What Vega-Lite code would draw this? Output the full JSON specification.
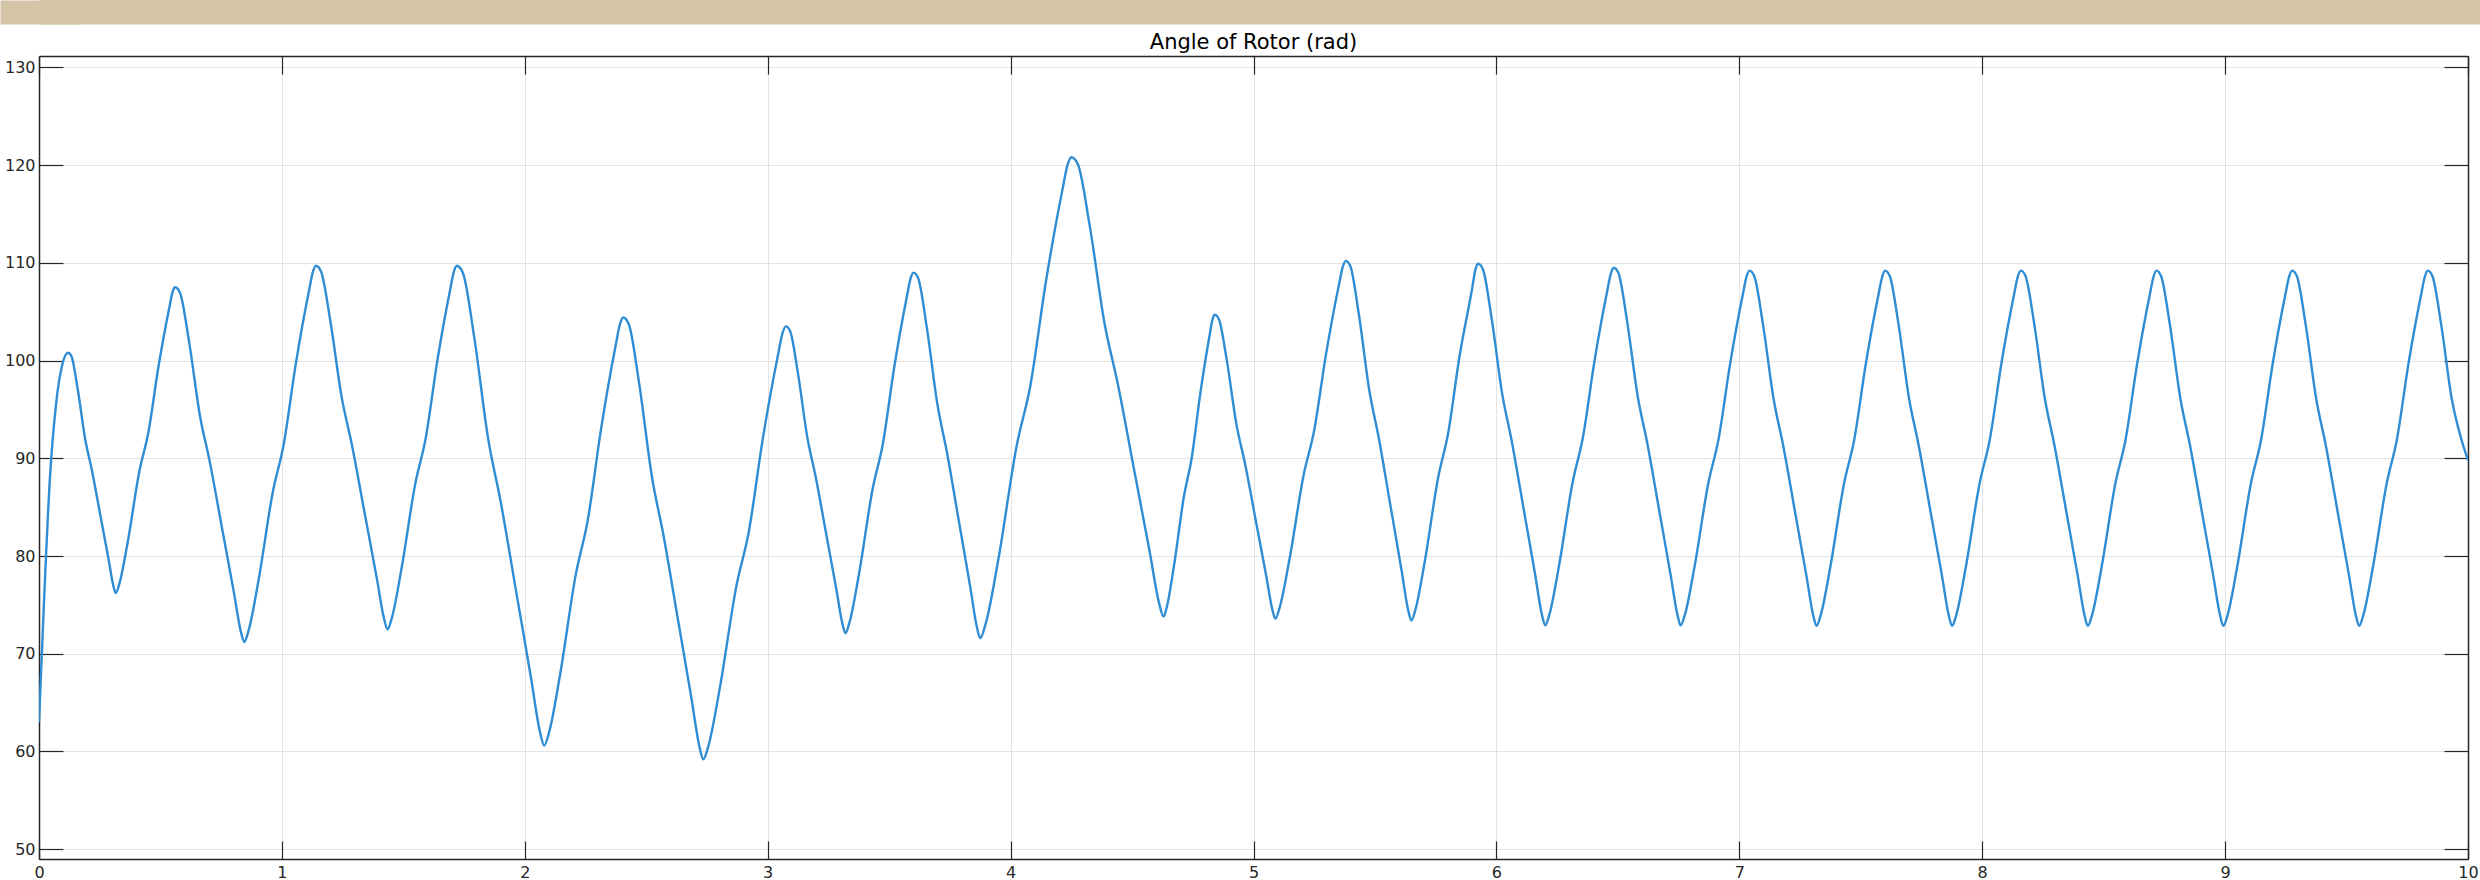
{
  "$schema": "https://vega.github.io/schema/vega-lite/v6.json",
  "padding": 0,
  "background": "white",
  "config": {
    "view": {"stroke": null},
    "font": "DejaVu Sans",
    "axis": {"labelFont": "DejaVu Sans", "labelFontSize": 16, "labelColor": "#262626", "domainColor": "#262626", "tickColor": "#262626", "gridColor": "#e3e3e3", "gridWidth": 1, "title": null}
  },
  "datasets": {
    "rotor": [
      {"t":0,"angle":63.0},{"t":0.02,"angle":75.0},{"t":0.045,"angle":88.0},{"t":0.07,"angle":95.5},{"t":0.095,"angle":99.5},{"t":0.12,"angle":100.8},
      {"t":0.1337,"angle":100.43},{"t":0.1592,"angle":97.11},{"t":0.1906,"angle":91.89},{"t":0.218,"angle":88.75},{"t":0.2533,"angle":84.07},{"t":0.2866,"angle":79.64},{"t":0.3062,"angle":76.94},
      {"t":0.316,"angle":76.2},
      {"t":0.3306,"angle":77.14},{"t":0.3648,"angle":81.36},{"t":0.4136,"angle":88.72},{"t":0.4502,"angle":92.63},{"t":0.4917,"angle":99.36},{"t":0.5356,"angle":105.31},{"t":0.5502,"angle":107.03},
      {"t":0.56,"angle":107.5},
      {"t":0.58,"angle":106.96},{"t":0.617,"angle":102.06},{"t":0.6626,"angle":94.36},{"t":0.7025,"angle":89.71},{"t":0.7538,"angle":82.82},{"t":0.8023,"angle":76.28},{"t":0.8308,"angle":72.29},
      {"t":0.845,"angle":71.2},
      {"t":0.8627,"angle":72.36},{"t":0.904,"angle":77.55},{"t":0.963,"angle":86.6},{"t":1.0073,"angle":91.41},{"t":1.0574,"angle":99.69},{"t":1.1105,"angle":107.01},{"t":1.1282,"angle":109.12},
      {"t":1.14,"angle":109.7},
      {"t":1.1607,"angle":109.14},{"t":1.199,"angle":104.12},{"t":1.2462,"angle":96.23},{"t":1.2875,"angle":91.47},{"t":1.3406,"angle":84.4},{"t":1.3908,"angle":77.71},{"t":1.4203,"angle":73.62},
      {"t":1.435,"angle":72.5},
      {"t":1.4521,"angle":73.62},{"t":1.492,"angle":78.64},{"t":1.549,"angle":87.38},{"t":1.5918,"angle":92.03},{"t":1.6402,"angle":100.03},{"t":1.6915,"angle":107.1},{"t":1.7086,"angle":109.14},
      {"t":1.72,"angle":109.7},
      {"t":1.7452,"angle":108.96},{"t":1.792,"angle":102.34},{"t":1.8496,"angle":91.93},{"t":1.9,"angle":85.64},{"t":1.9648,"angle":76.31},{"t":2.026,"angle":67.47},{"t":2.062,"angle":62.07},
      {"t":2.08,"angle":60.6},
      {"t":2.0995,"angle":61.91},{"t":2.145,"angle":67.83},{"t":2.21,"angle":78.12},{"t":2.2588,"angle":83.6},{"t":2.314,"angle":93.01},{"t":2.3725,"angle":101.33},{"t":2.392,"angle":103.74},
      {"t":2.405,"angle":104.4},
      {"t":2.4281,"angle":103.72},{"t":2.471,"angle":97.62},{"t":2.5238,"angle":88.04},{"t":2.57,"angle":82.25},{"t":2.6294,"angle":73.66},{"t":2.6855,"angle":65.53},{"t":2.7185,"angle":60.56},
      {"t":2.735,"angle":59.2},
      {"t":2.7554,"angle":60.53},{"t":2.803,"angle":66.51},{"t":2.871,"angle":76.92},{"t":2.922,"angle":82.46},{"t":2.9798,"angle":91.98},{"t":3.041,"angle":100.4},{"t":3.0614,"angle":102.84},
      {"t":3.075,"angle":103.5},
      {"t":3.0922,"angle":103.03},{"t":3.124,"angle":98.79},{"t":3.1632,"angle":92.13},{"t":3.1975,"angle":88.11},{"t":3.2416,"angle":82.15},{"t":3.2833,"angle":76.5},{"t":3.3078,"angle":73.04},
      {"t":3.32,"angle":72.1},
      {"t":3.3368,"angle":73.21},{"t":3.376,"angle":78.19},{"t":3.432,"angle":86.86},{"t":3.474,"angle":91.47},{"t":3.5216,"angle":99.41},{"t":3.572,"angle":106.42},{"t":3.5888,"angle":108.45},
      {"t":3.6,"angle":109.0},
      {"t":3.6193,"angle":108.44},{"t":3.655,"angle":103.39},{"t":3.699,"angle":95.46},{"t":3.7375,"angle":90.67},{"t":3.787,"angle":83.57},{"t":3.8338,"angle":76.84},{"t":3.8613,"angle":72.72},
      {"t":3.875,"angle":71.6},
      {"t":3.8975,"angle":73.08},{"t":3.95,"angle":79.72},{"t":4.025,"angle":91.28},{"t":4.0813,"angle":97.43},{"t":4.145,"angle":108.01},{"t":4.2125,"angle":117.36},{"t":4.235,"angle":120.06},
      {"t":4.25,"angle":120.8},
      {"t":4.2766,"angle":120.1},{"t":4.326,"angle":113.75},{"t":4.3868,"angle":103.79},{"t":4.44,"angle":97.77},{"t":4.5084,"angle":88.84},{"t":4.573,"angle":80.38},{"t":4.611,"angle":75.21},
      {"t":4.63,"angle":73.8},
      {"t":4.6426,"angle":74.73},{"t":4.672,"angle":78.9},{"t":4.714,"angle":86.16},{"t":4.7455,"angle":90.02},{"t":4.7812,"angle":96.67},{"t":4.819,"angle":102.54},{"t":4.8316,"angle":104.24},
      {"t":4.84,"angle":104.7},
      {"t":4.8575,"angle":104.23},{"t":4.89,"angle":100.04},{"t":4.93,"angle":93.44},{"t":4.965,"angle":89.46},{"t":5.01,"angle":83.55},{"t":5.0525,"angle":77.95},{"t":5.0775,"angle":74.53},
      {"t":5.09,"angle":73.6},
      {"t":5.1074,"angle":74.7},{"t":5.148,"angle":79.64},{"t":5.206,"angle":88.24},{"t":5.2495,"angle":92.82},{"t":5.2988,"angle":100.68},{"t":5.351,"angle":107.64},{"t":5.3684,"angle":109.65},
      {"t":5.38,"angle":110.2},
      {"t":5.3989,"angle":109.65},{"t":5.434,"angle":104.68},{"t":5.4772,"angle":96.88},{"t":5.515,"angle":92.17},{"t":5.5636,"angle":85.18},{"t":5.6095,"angle":78.55},{"t":5.6365,"angle":74.5},
      {"t":5.65,"angle":73.4},
      {"t":5.6665,"angle":74.5},{"t":5.705,"angle":79.42},{"t":5.76,"angle":88.0},{"t":5.8013,"angle":92.56},{"t":5.848,"angle":100.41},{"t":5.9,"angle":107.35},{"t":5.914,"angle":109.35},
      {"t":5.925,"angle":109.9},
      {"t":5.9443,"angle":109.35},{"t":5.9802,"angle":104.35},{"t":6.0244,"angle":96.51},{"t":6.063,"angle":91.77},{"t":6.1127,"angle":84.74},{"t":6.1596,"angle":78.08},{"t":6.1872,"angle":74.01},
      {"t":6.201,"angle":72.9},
      {"t":6.2179,"angle":74.0},{"t":6.2574,"angle":78.94},{"t":6.3138,"angle":87.54},{"t":6.3561,"angle":92.12},{"t":6.404,"angle":99.98},{"t":6.4548,"angle":106.94},{"t":6.4717,"angle":108.95},
      {"t":6.483,"angle":109.5},
      {"t":6.5023,"angle":108.95},{"t":6.5382,"angle":104.01},{"t":6.5824,"angle":96.25},{"t":6.621,"angle":91.57},{"t":6.6707,"angle":84.61},{"t":6.7176,"angle":78.02},{"t":6.7452,"angle":74.0},
      {"t":6.759,"angle":72.9},
      {"t":6.776,"angle":73.99},{"t":6.8156,"angle":78.89},{"t":6.8722,"angle":87.42},{"t":6.9147,"angle":91.96},{"t":6.9628,"angle":99.76},{"t":7.0137,"angle":106.66},{"t":7.0307,"angle":108.66},
      {"t":7.042,"angle":109.2},
      {"t":7.0613,"angle":108.65},{"t":7.0972,"angle":103.75},{"t":7.1414,"angle":96.04},{"t":7.18,"angle":91.39},{"t":7.2297,"angle":84.48},{"t":7.2766,"angle":77.94},{"t":7.3042,"angle":73.94},
      {"t":7.318,"angle":72.85},
      {"t":7.335,"angle":73.94},{"t":7.3745,"angle":78.85},{"t":7.431,"angle":87.39},{"t":7.4734,"angle":91.93},{"t":7.5214,"angle":99.75},{"t":7.5723,"angle":106.66},{"t":7.5892,"angle":108.65},
      {"t":7.6,"angle":109.2},
      {"t":7.6193,"angle":108.65},{"t":7.6552,"angle":103.75},{"t":7.6994,"angle":96.04},{"t":7.738,"angle":91.39},{"t":7.7877,"angle":84.48},{"t":7.8346,"angle":77.94},{"t":7.8622,"angle":73.94},
      {"t":7.876,"angle":72.85},
      {"t":7.893,"angle":73.94},{"t":7.9325,"angle":78.85},{"t":7.989,"angle":87.39},{"t":8.0314,"angle":91.93},{"t":8.0794,"angle":99.75},{"t":8.1303,"angle":106.66},{"t":8.1472,"angle":108.65},
      {"t":8.159,"angle":109.2},
      {"t":8.1783,"angle":108.65},{"t":8.2142,"angle":103.75},{"t":8.2584,"angle":96.04},{"t":8.297,"angle":91.39},{"t":8.3467,"angle":84.48},{"t":8.3936,"angle":77.94},{"t":8.4212,"angle":73.94},
      {"t":8.435,"angle":72.85},
      {"t":8.452,"angle":73.94},{"t":8.4915,"angle":78.85},{"t":8.548,"angle":87.39},{"t":8.5904,"angle":91.93},{"t":8.6384,"angle":99.75},{"t":8.6893,"angle":106.66},{"t":8.7062,"angle":108.65},
      {"t":8.717,"angle":109.2},
      {"t":8.7363,"angle":108.65},{"t":8.7722,"angle":103.75},{"t":8.8164,"angle":96.04},{"t":8.855,"angle":91.39},{"t":8.9047,"angle":84.48},{"t":8.9516,"angle":77.94},{"t":8.9792,"angle":73.94},
      {"t":8.993,"angle":72.85},
      {"t":9.01,"angle":73.94},{"t":9.0495,"angle":78.85},{"t":9.106,"angle":87.39},{"t":9.1484,"angle":91.93},{"t":9.1964,"angle":99.75},{"t":9.2473,"angle":106.66},{"t":9.2642,"angle":108.65},
      {"t":9.276,"angle":109.2},
      {"t":9.2953,"angle":108.65},{"t":9.3312,"angle":103.75},{"t":9.3754,"angle":96.04},{"t":9.414,"angle":91.39},{"t":9.4637,"angle":84.48},{"t":9.5106,"angle":77.94},{"t":9.5382,"angle":73.94},
      {"t":9.552,"angle":72.85},
      {"t":9.569,"angle":73.94},{"t":9.6085,"angle":78.85},{"t":9.665,"angle":87.39},{"t":9.7074,"angle":91.93},{"t":9.7554,"angle":99.75},{"t":9.8063,"angle":106.66},{"t":9.8232,"angle":108.65},
      {"t":9.834,"angle":109.2},
      {"t":9.8533,"angle":108.65},{"t":9.8892,"angle":103.75},{"t":9.9334,"angle":96.04},{"t":9.972,"angle":92.0},{"t":10.0,"angle":89.8}
    ]
  },
  "columns": 1,
  "spacing": 8,
  "concat": [
    {
      "width": 2441,
      "height": 24,
      "data": {"values": [{"part": "header"}]},
      "mark": {"type": "rect", "color": "#d3c5a6", "opacity": 0},
      "encoding": {
        "x": {"field": "part", "type": "nominal", "scale": {"paddingInner": 0, "paddingOuter": 0},
              "axis": {"orient": "top", "labels": false, "ticks": false, "grid": false,
                       "domain": true, "domainColor": "#d3c5a6", "domainOpacity": 1, "domainWidth": 48,
                       "minExtent": 0, "maxExtent": 0, "title": null}},
        "y": {"field": "part", "type": "nominal", "scale": {"paddingInner": 0, "paddingOuter": 0},
              "axis": {"orient": "left", "labels": false, "ticks": false, "grid": false,
                       "domain": true, "domainColor": "#d3c5a6", "domainOpacity": 1, "domainWidth": 78,
                       "minExtent": 39, "maxExtent": 39, "title": null}}
      }
    },
    {
      "width": 2429,
      "height": 803,
      "title": {"text": "Angle of Rotor (rad)", "font": "DejaVu Sans", "fontSize": 21, "fontWeight": "normal", "color": "#000000", "anchor": "middle", "offset": -15, "baseline": "alphabetic"},
      "data": {"name": "rotor"},
      "layer": [
        {
          "mark": {"type": "line", "color": "#2f8dd3", "strokeWidth": 2.4, "interpolate": "monotone", "clip": true},
          "encoding": {
            "x": {"field": "t", "type": "quantitative", "scale": {"domain": [0, 10], "nice": false, "zero": false},
                  "axis": {"orient": "bottom", "values": [0,1,2,3,4,5,6,7,8,9,10], "grid": true, "ticks": false, "domain": true, "domainWidth": 1.5, "labelPadding": 5, "labelFlush": false, "format": "d"}},
            "y": {"field": "angle", "type": "quantitative", "scale": {"domain": [49, 131.16], "nice": false, "zero": false},
                  "axis": {"orient": "left", "values": [50,60,70,80,90,100,110,120,130], "grid": true, "ticks": false, "domain": true, "domainWidth": 1.5, "labelPadding": 4, "minExtent": 39, "maxExtent": 39, "format": "d"}}
          }
        },
        {
          "mark": {"type": "line", "opacity": 0},
          "encoding": {
            "x": {"field": "t", "type": "quantitative", "axis": {"orient": "top", "values": [0,1,2,3,4,5,6,7,8,9,10], "grid": false, "labels": false, "ticks": true, "tickSize": -18, "tickWidth": 1.2, "domain": true, "domainWidth": 1.5, "minExtent": 0, "maxExtent": 0}},
            "y": {"field": "angle", "type": "quantitative", "axis": {"orient": "right", "values": [50,60,70,80,90,100,110,120,130], "grid": false, "labels": false, "ticks": true, "tickSize": -24, "tickWidth": 1.2, "domain": true, "domainWidth": 1.5, "minExtent": 0, "maxExtent": 0}}
          }
        },
        {
          "mark": {"type": "line", "opacity": 0},
          "encoding": {
            "x": {"field": "t", "type": "quantitative", "axis": {"orient": "bottom", "values": [0,1,2,3,4,5,6,7,8,9,10], "grid": false, "labels": false, "ticks": true, "tickSize": -18, "tickWidth": 1.2, "domain": false, "minExtent": 0, "maxExtent": 0}},
            "y": {"field": "angle", "type": "quantitative", "axis": {"orient": "left", "values": [50,60,70,80,90,100,110,120,130], "grid": false, "labels": false, "ticks": true, "tickSize": -24, "tickWidth": 1.2, "domain": false, "minExtent": 0, "maxExtent": 0}}
          }
        }
      ],
      "resolve": {"axis": {"x": "independent", "y": "independent"}}
    }
  ]
}
